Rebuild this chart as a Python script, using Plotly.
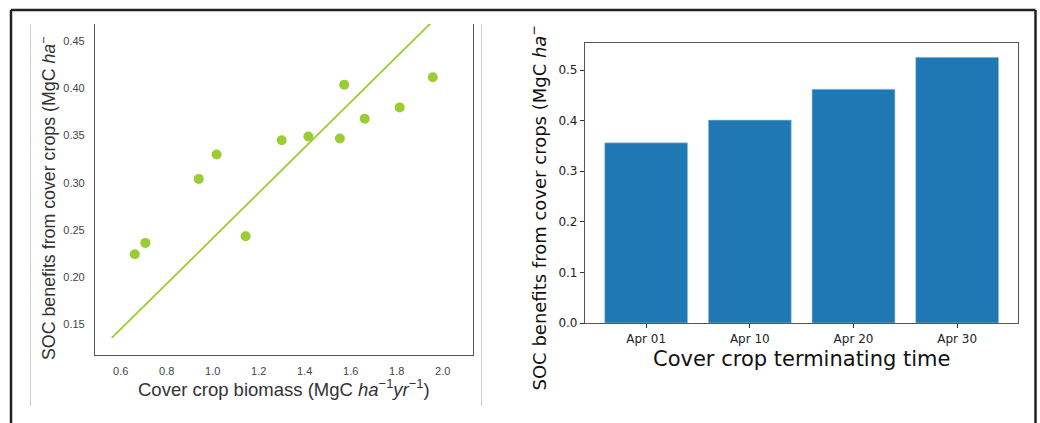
import plotly.graph_objects as go

# ---- data ----
biomass = [0.661, 0.707, 0.939, 1.017, 1.143, 1.300, 1.416, 1.553, 1.572, 1.661, 1.813, 1.957]
soc_benefit = [0.224, 0.236, 0.304, 0.330, 0.243, 0.345, 0.349, 0.347, 0.404, 0.368, 0.380, 0.412]
fit_x = [0.561, 2.0]
fit_y = [0.135, 0.482]

term_dates = ["Apr 01", "Apr 10", "Apr 20", "Apr 30"]
term_soc = [0.356, 0.401, 0.462, 0.525]

left_xticks = [0.6, 0.8, 1.0, 1.2, 1.4, 1.6, 1.8, 2.0]
left_yticks = [0.15, 0.20, 0.25, 0.30, 0.35, 0.40, 0.45]
right_yticks = [0.0, 0.1, 0.2, 0.3, 0.4, 0.5]

W = 1040
H_REF = 423
H = 430  # rendered height; the capture is squeezed back to 423 px
def px(x):
    return x / W
def py(y):
    return 1 - y / H_REF

GREEN = "#9acd32"
BLUE = "#1f77b4"

fig = go.Figure()

fig.add_trace(go.Scatter(x=fit_x, y=fit_y, mode="lines",
                         line=dict(color=GREEN, width=1.8),
                         xaxis="x", yaxis="y", showlegend=False, cliponaxis=True))
fig.add_trace(go.Scatter(x=biomass, y=soc_benefit, mode="markers",
                         marker=dict(color=GREEN, size=10, line=dict(width=0)),
                         xaxis="x", yaxis="y", showlegend=False))

fig.add_trace(go.Bar(x=term_dates, y=term_soc, marker=dict(color=BLUE, line=dict(color="#a9c9e3", width=0.6)),
                     width=0.8, xaxis="x2", yaxis="y2", showlegend=False))

left_font = dict(family="Liberation Sans, Arial", size=11, color="#444444")
right_font = dict(family="DejaVu Sans", size=12, color="#222222")

fig.update_layout(
    width=W, height=H, autosize=False,
    margin=dict(l=0, r=0, t=0, b=0),
    paper_bgcolor="white", plot_bgcolor="white",
    xaxis=dict(domain=[px(95), px(473)], range=[0.488, 2.132], anchor="y",
               tickvals=left_xticks, ticktext=[f"{v:.1f}" for v in left_xticks],
               showgrid=False, zeroline=False, showline=True, linecolor="#555555", linewidth=1.2,
               ticks="outside", ticklen=6, tickcolor="rgba(0,0,0,0)", tickfont=left_font, mirror=False),
    yaxis=dict(domain=[py(354.7), py(24)], range=[0.1172, 0.4686], anchor="x",
               tickvals=left_yticks, ticktext=[f"{v:.2f}" for v in left_yticks],
               showgrid=False, zeroline=False, showline=True, linecolor="#555555", linewidth=1.2,
               ticks="outside", ticklen=7, tickcolor="rgba(0,0,0,0)", tickfont=left_font, mirror=True),
    xaxis2=dict(domain=[px(585), px(1018.3)], range=[-0.59, 3.59], anchor="y2",
                showgrid=False, zeroline=False, showline=True, linecolor="#555555", linewidth=1.2,
                ticks="outside", ticklen=4, tickcolor="#333333", tickfont=right_font, mirror=True),
    yaxis2=dict(domain=[py(323), py(43.3)], range=[0, 0.5528], anchor="x2",
                tickvals=right_yticks, ticktext=[f"{v:.1f}" for v in right_yticks],
                showgrid=False, zeroline=False, showline=True, linecolor="#555555", linewidth=1.2,
                ticks="outside", ticklen=4, tickcolor="#333333", tickfont=right_font, mirror=True),
    bargap=0.2,
)

fig.update_layout(annotations=[
    dict(text="Cover crop biomass (MgC <i>ha</i><sup>−1</sup><i>yr</i><sup>−1</sup>)",
         x=px(284), y=py(388), xref="paper", yref="paper", showarrow=False,
         xanchor="center", yanchor="middle",
         font=dict(family="Liberation Sans, Arial", size=18.5, color="#333333")),
    dict(text="SOC benefits from cover crops (MgC <i>ha</i><sup>−</sup>",
         x=px(48), y=py(362), xref="paper", yref="paper", showarrow=False,
         xanchor="center", yanchor="bottom", textangle=-90,
         font=dict(family="Liberation Sans, Arial", size=17.8, color="#333333")),
    dict(text="Cover crop terminating time",
         x=px(801.5), y=py(358.7), xref="paper", yref="paper", showarrow=False,
         xanchor="center", yanchor="middle",
         font=dict(family="DejaVu Sans", size=21, color="#111111")),
    dict(text="SOC benefits from cover crops (MgC <i>ha</i><sup>−</sup>",
         x=px(538), y=py(393), xref="paper", yref="paper", showarrow=False,
         xanchor="center", yanchor="bottom", textangle=-90,
         font=dict(family="DejaVu Sans", size=18, color="#111111")),
])

shapes = [
    # outer frame (open at the bottom)
    dict(type="line", xref="paper", yref="paper", x0=px(11), x1=px(11), y0=0, y1=py(10), line=dict(color="#222222", width=2.5)),
    dict(type="line", xref="paper", yref="paper", x0=px(11), x1=px(1035.5), y0=py(10), y1=py(10), line=dict(color="#222222", width=2.5)),
    dict(type="line", xref="paper", yref="paper", x0=px(1035.5), x1=px(1035.5), y0=0, y1=py(10), line=dict(color="#222222", width=2.5)),
    # light grey edges of the cropped left figure
    dict(type="line", xref="paper", yref="paper", x0=px(30.5), x1=px(30.5), y0=py(406), y1=py(24), line=dict(color="#cccccc", width=1)),
    dict(type="line", xref="paper", yref="paper", x0=px(481.5), x1=px(481.5), y0=py(406), y1=py(24), line=dict(color="#cccccc", width=1)),
]
fig.update_layout(shapes=shapes)

fig.write_html("out.html", config={"displayModeBar": False, "responsive": False},
               post_script="document.body.style.margin='0';document.body.style.overflow='hidden';")
